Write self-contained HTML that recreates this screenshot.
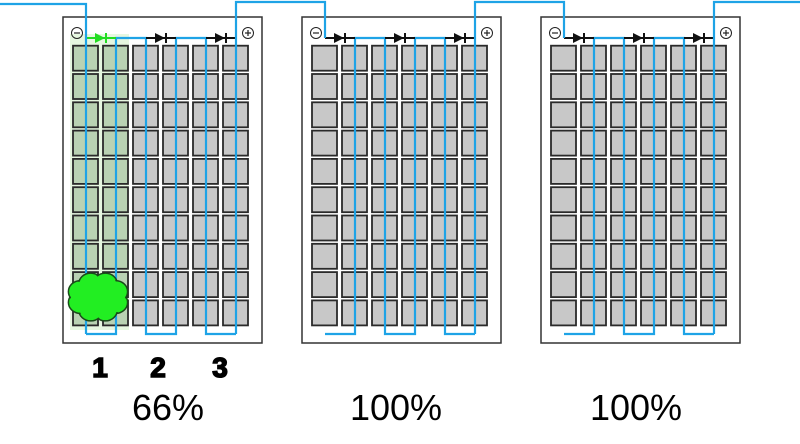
<!DOCTYPE html>
<html><head><meta charset="utf-8"><style>
html,body{margin:0;padding:0;background:#fff;width:800px;height:444px;overflow:hidden}
svg{display:block}
text{font-family:"Liberation Sans",sans-serif}
</style></head><body>
<svg id="s" width="800" height="444" viewBox="0 0 800 444" xmlns="http://www.w3.org/2000/svg">
<g id="g"></g>
<text x="100" y="377" font-size="28" font-weight="bold" text-anchor="middle" stroke="#000" stroke-width="1.5">1</text>
<text x="158" y="377" font-size="28" font-weight="bold" text-anchor="middle" stroke="#000" stroke-width="1.5">2</text>
<text x="220" y="377" font-size="28" font-weight="bold" text-anchor="middle" stroke="#000" stroke-width="1.5">3</text>
<text x="168" y="420" font-size="36" text-anchor="middle">66%</text>
<text x="396" y="420" font-size="36" text-anchor="middle">100%</text>
<text x="636" y="420" font-size="36" text-anchor="middle">100%</text>
</svg>
<script>
var g=document.getElementById('g'),h='';
var P=[63,302,541];
P.forEach(function(L,pi){
  h+='<rect x="'+L+'" y="17" width="199" height="326" fill="#fff" stroke="#333" stroke-width="1.5"/>';
  if(pi==0) h+='<rect x="70" y="34" width="59" height="296" fill="#e6f7e0"/>';
  for(var c=0;c<6;c++)for(var r=0;r<10;r++){
    var fill=(pi==0&&c<2)?'#b9d2b3':'#c8c8c8';
    h+='<rect x="'+(L+10+c*30)+'" y="'+(45.7+r*28.3).toFixed(1)+'" width="25" height="25" fill="'+fill+'" stroke="#2a2a2a" stroke-width="1.8"/>';
  }
  h+='<circle cx="'+(L+14)+'" cy="33" r="5.5" fill="none" stroke="#222" stroke-width="1"/><line x1="'+(L+11)+'" y1="33" x2="'+(L+17)+'" y2="33" stroke="#222" stroke-width="1.2"/>';
  h+='<circle cx="'+(L+185)+'" cy="33" r="5.5" fill="none" stroke="#222" stroke-width="1"/><line x1="'+(L+182)+'" y1="33" x2="'+(L+188)+'" y2="33" stroke="#222" stroke-width="1.2"/><line x1="'+(L+185)+'" y1="30" x2="'+(L+185)+'" y2="36" stroke="#222" stroke-width="1.2"/>';
  var w=[23,53,83,113,143,173].map(function(v){return L+v;});
  var d='M'+w[0]+' 334 H'+w[1]+' V38 H'+w[2]+' V334 H'+w[3]+' V38 H'+w[4]+' V334 H'+w[5];
  h+='<path d="'+d+'" fill="none" stroke="#1ea3e6" stroke-width="2.2"/>';
  for(var k=0;k<3;k++){
    var a=w[2*k],b=w[2*k+1],col=(pi==0&&k==0)?'#22dd22':'#111',m=(a+b)/2;
    h+='<line x1="'+a+'" y1="38" x2="'+b+'" y2="38" stroke="'+col+'" stroke-width="2"/>';
    h+='<polygon points="'+(m-6)+',33 '+(m+4)+',38 '+(m-6)+',43" fill="'+col+'"/>';
    h+='<line x1="'+(m+5)+'" y1="33" x2="'+(m+5)+'" y2="43" stroke="'+col+'" stroke-width="2"/>';
  }
});
h+='<path d="M0 4 H86 V334" fill="none" stroke="#1ea3e6" stroke-width="2.2"/>';
h+='<path d="M236 334 V2 H325 V38" fill="none" stroke="#1ea3e6" stroke-width="2.2"/>';
h+='<path d="M475 334 V2 H564 V38" fill="none" stroke="#1ea3e6" stroke-width="2.2"/>';
h+='<path d="M714 334 V2 H800" fill="none" stroke="#1ea3e6" stroke-width="2.2"/>';
var cx=98,cy=297,bumps=8,i,t;
for(i=0;i<bumps;i++){
  t=(i+0.5)/bumps*2*Math.PI;
  h+='<ellipse cx="'+(cx+19*Math.cos(t)).toFixed(1)+'" cy="'+(cy+14*Math.sin(t)).toFixed(1)+'" rx="12" ry="11" fill="#22ee22" stroke="#1a4a1a" stroke-width="1.5"/>';
}
for(i=0;i<bumps;i++){
  t=(i+0.5)/bumps*2*Math.PI;
  h+='<ellipse cx="'+(cx+19*Math.cos(t)).toFixed(1)+'" cy="'+(cy+14*Math.sin(t)).toFixed(1)+'" rx="10.8" ry="9.8" fill="#22ee22"/>';
}
h+='<ellipse cx="'+cx+'" cy="'+cy+'" rx="21" ry="16" fill="#22ee22"/>';
g.innerHTML=h;
</script>
</body></html>
